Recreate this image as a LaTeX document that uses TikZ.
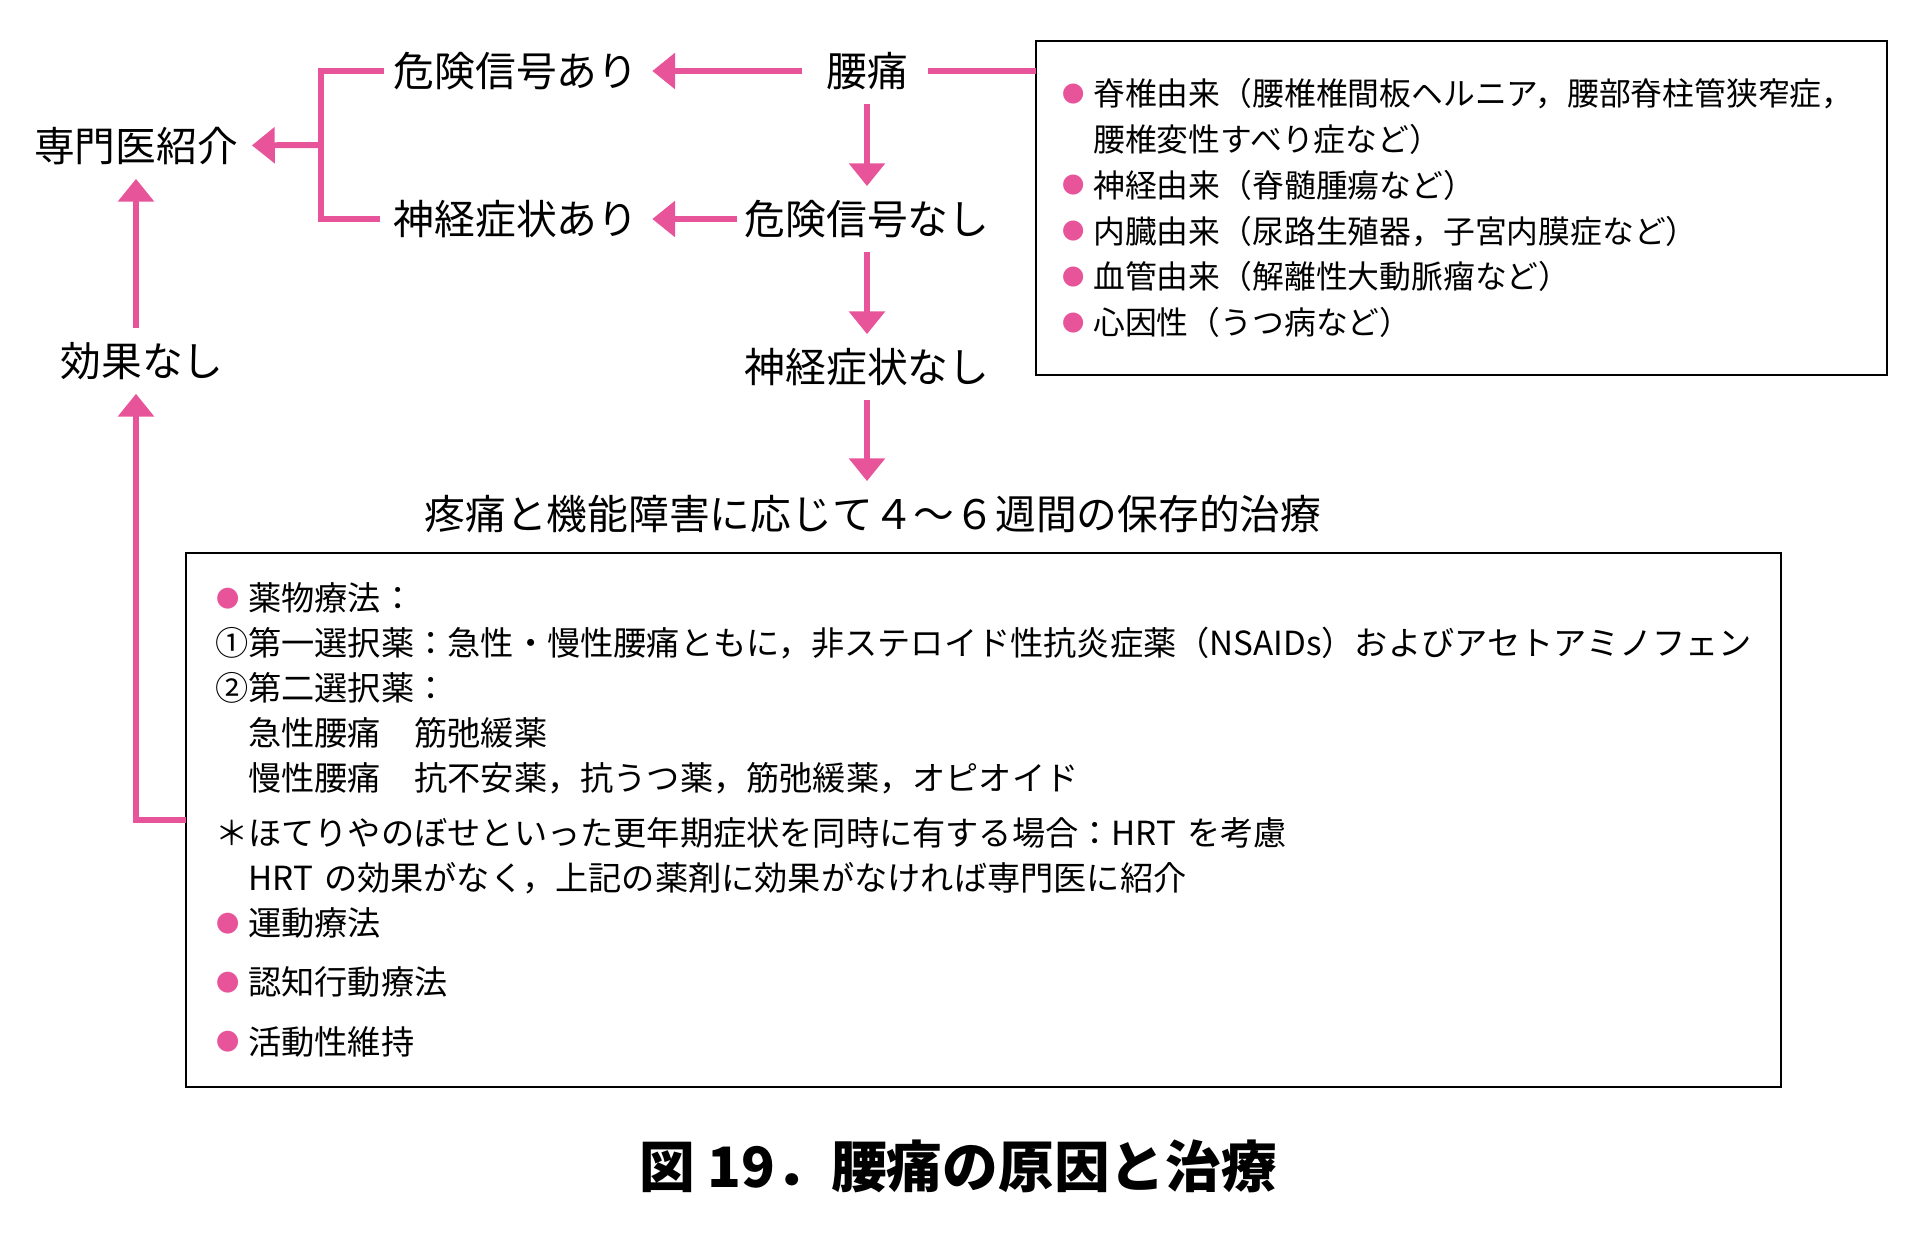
\documentclass[tikz,border=0pt]{standalone}
\usepackage{fontspec}
\setmainfont{Noto Sans CJK JP}
\usepackage{tikz}
\usetikzlibrary{arrows.meta, positioning, calc}
\definecolor{accent}{RGB}{232,84,154}
\newcommand{\pinkdot}{\makebox[1em][l]{\hspace{0.03em}\raisebox{0.1em}{\textcolor{accent}{\scalebox{0.7}{●}}}}}

\begin{document}
\begin{tikzpicture}[
  x=0.02cm, y=-0.02cm,
  flow/.style={font=\fontsize{23.2pt}{28pt}\selectfont, inner sep=0pt, outer sep=0pt},
  listbox/.style={draw, line width=1.1pt, align=left, outer sep=0pt},
  arr/.style={accent, line width=3.4pt, -{Triangle[length=13pt, width=20pt]},
              shorten >=0.28cm, shorten <=0.28cm},
  link/.style={accent, line width=3.4pt, shorten >=0.28cm, shorten <=0.28cm},
]
\useasboundingbox (0,0) rectangle (1913,1240);

\node[flow] (senmon) at (136,146) {専門医紹介};
\node[flow] (kikenari) at (516,71) {危険信号あり};
\node[flow] (youtsu) at (867,71) {腰痛};
\node[flow] (shinkeiari) at (516,219) {神経症状あり};
\node[flow] (kikennashi) at (867,219) {危険信号なし};
\node[flow] (kouka) at (142,361) {効果なし};
\node[flow] (shinkeinashi) at (867,367) {神経症状なし};
\node[flow] (hozon) at (873,514) {疼痛と機能障害に応じて４～６週間の保存的治療};
\coordinate (brk) at (321,145);

\node[listbox, minimum width=17.02cm, minimum height=6.68cm, text width=16cm,
      inner xsep=0.51cm, font=\fontsize{18.1pt}{26.1pt}\selectfont] (causes) at (1461.5,208) {%
\pinkdot 脊椎由来（腰椎椎間板ヘルニア，腰部脊柱管狭窄症，\\
\hspace*{1em}腰椎変性すべり症など）\\
\pinkdot 神経由来（脊髄腫瘍など）\\
\pinkdot 内臓由来（尿路生殖器，子宮内膜症など）\\
\pinkdot 血管由来（解離性大動脈瘤など）\\
\pinkdot 心因性（うつ病など）};

\node[listbox, minimum width=31.9cm, minimum height=10.68cm, text width=30.74cm,
      inner xsep=0.58cm, font=\fontsize{18.9pt}{25.5pt}\selectfont] (treat) at (983.5,820) {%
\pinkdot 薬物療法：\\
①第一選択薬：急性・慢性腰痛ともに，非ステロイド性抗炎症薬（NSAIDs）およびアセトアミノフェン\\
②第二選択薬：\\
\hspace*{1em}急性腰痛　筋弛緩薬\\
\hspace*{1em}慢性腰痛　抗不安薬，抗うつ薬，筋弛緩薬，オピオイド\\[0.22cm]
＊ほてりやのぼせといった更年期症状を同時に有する場合：HRT を考慮\\
\hspace*{1em}HRT の効果がなく，上記の薬剤に効果がなければ専門医に紹介\\
\pinkdot 運動療法\\[0.28cm]
\pinkdot 認知行動療法\\[0.3cm]
\pinkdot 活動性維持};

\node[font=\fontsize{31.7pt}{36pt}\selectfont\bfseries, inner sep=0pt] (caption) at (958,1166) {図 19．腰痛の原因と治療};

% flow
\draw[arr, shorten <=0.48cm] (youtsu) -- (kikenari);
\draw[arr, shorten <=0.16cm] (kikennashi) -- (shinkeiari);
\draw[arr] (youtsu) -- (kikennashi);
\draw[arr] (kikennashi) -- (shinkeinashi);
\draw[arr] (shinkeinashi) -- (shinkeinashi |- hozon.north);
\draw[link, shorten <=0.4cm, shorten >=0pt] (youtsu) -- (youtsu -| causes.west);
\draw[link, shorten <=0.2cm] (kikenari.west) -| (brk) |- (shinkeiari.west);
\draw[arr, shorten <=0pt] (brk) -- (senmon);
% back to the specialist
\draw[arr, shorten <=0pt] (treat.west) -| (kouka.south -| senmon.south);
\draw[arr] (kouka.north -| senmon.south) -- (senmon.south);
\end{tikzpicture}
\end{document}
